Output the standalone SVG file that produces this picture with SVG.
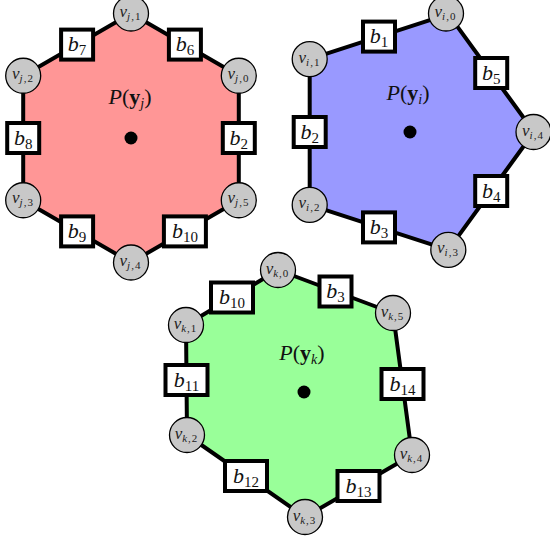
<svg xmlns="http://www.w3.org/2000/svg" width="550" height="542" viewBox="0 0 550 542">
<style>
.edge{stroke:#000;stroke-width:4;stroke-linejoin:round}
.box{fill:#fff;stroke:#000;stroke-width:4}
.v{fill:#c8c8c8;stroke:#000;stroke-width:1.3}
.bl{font-family:"Liberation Serif",serif;font-size:22px;font-style:italic;text-anchor:middle;fill:#111}
.bs{font-size:15px;font-style:normal}
.vl{font-family:"Liberation Serif",serif;font-size:17px;font-style:italic;text-anchor:middle;fill:#222}
.vi{font-size:11px;font-style:italic;letter-spacing:1px}
.vu{font-size:11px;font-style:normal;letter-spacing:1px}
.pl{font-family:"Liberation Serif",serif;font-size:22px;text-anchor:middle;fill:#111}
.pi{font-style:italic}
.pb{font-weight:bold}
.ps{font-size:14px;font-style:italic}
</style>
<g id="connectors">
<polygon class="edge" fill="#ff9696" points="238.8,75.75 131,13.5 23.2,75.75 23.2,200.25 131,262.5 238.8,200.25"/>
<polygon class="edge" fill="#9999ff" points="448.3,14.1 309.7,59.1 309.7,204.9 448.3,249.9 534,132"/>
<polygon class="edge" fill="#99ff99" points="278,270 393,313 412,455 305,517 187,435 186,325"/>
</g>
<g id="centers">
<circle cx="131" cy="138" r="6.5" fill="#000"/>
<circle cx="410" cy="132" r="6.5" fill="#000"/>
<circle cx="304" cy="392" r="6.5" fill="#000"/>
<text class="pl" x="130" y="104"><tspan class="pi">P</tspan>(<tspan class="pb">y</tspan><tspan class="ps" dy="4">j</tspan><tspan dy="-4">)</tspan></text>
<text class="pl" x="408" y="100"><tspan class="pi">P</tspan>(<tspan class="pb">y</tspan><tspan class="ps" dy="4">i</tspan><tspan dy="-4">)</tspan></text>
<text class="pl" x="302" y="360"><tspan class="pi">P</tspan>(<tspan class="pb">y</tspan><tspan class="ps" dy="4">k</tspan><tspan dy="-4">)</tspan></text>
</g>
<!-- red polytope nodes -->
<g id="vj0"><circle class="v" cx="238.8" cy="75.75" r="17.5"/><text class="vl" x="238.5" y="79">v<tspan class="vi" dy="3">j</tspan><tspan class="vu">,0</tspan></text></g>
<g id="vj1"><circle class="v" cx="131" cy="13.5" r="17.5"/><text class="vl" x="130.5" y="17">v<tspan class="vi" dy="3">j</tspan><tspan class="vu">,1</tspan></text></g>
<g id="vj2"><circle class="v" cx="23.2" cy="75.75" r="17.5"/><text class="vl" x="23" y="79">v<tspan class="vi" dy="3">j</tspan><tspan class="vu">,2</tspan></text></g>
<g id="vj3"><circle class="v" cx="23.2" cy="200.25" r="17.5"/><text class="vl" x="23" y="203">v<tspan class="vi" dy="3">j</tspan><tspan class="vu">,3</tspan></text></g>
<g id="vj4"><circle class="v" cx="131" cy="262.5" r="17.5"/><text class="vl" x="130.5" y="266">v<tspan class="vi" dy="3">j</tspan><tspan class="vu">,4</tspan></text></g>
<g id="vj5"><circle class="v" cx="238.8" cy="200.25" r="17.5"/><text class="vl" x="238.5" y="203">v<tspan class="vi" dy="3">j</tspan><tspan class="vu">,5</tspan></text></g>
<g id="bj6"><rect class="box" x="168.9" y="29.6" width="32" height="30"/><text class="bl" x="184.9" y="51">b<tspan class="bs" dy="4">6</tspan></text></g>
<g id="bj7"><rect class="box" x="61.1" y="29.6" width="32" height="30"/><text class="bl" x="77.1" y="51">b<tspan class="bs" dy="4">7</tspan></text></g>
<g id="bj8"><rect class="box" x="7.2" y="123" width="32" height="30"/><text class="bl" x="23.2" y="144.5">b<tspan class="bs" dy="4">8</tspan></text></g>
<g id="bj2"><rect class="box" x="222.8" y="123" width="32" height="30"/><text class="bl" x="238.8" y="144.5">b<tspan class="bs" dy="4">2</tspan></text></g>
<g id="bj9"><rect class="box" x="61.1" y="216.4" width="32" height="30"/><text class="bl" x="77.1" y="238">b<tspan class="bs" dy="4">9</tspan></text></g>
<g id="bj10"><rect class="box" x="163.9" y="216.4" width="42" height="30"/><text class="bl" x="184.9" y="238">b<tspan class="bs" dy="4">10</tspan></text></g>
<!-- blue polytope nodes -->
<g id="vi0"><circle class="v" cx="446" cy="13.5" r="17.5"/><text class="vl" x="445.5" y="17">v<tspan class="vi" dy="3">i</tspan><tspan class="vu">,0</tspan></text></g>
<g id="vi1"><circle class="v" cx="309.7" cy="59.1" r="17.5"/><text class="vl" x="309.5" y="62.5">v<tspan class="vi" dy="3">i</tspan><tspan class="vu">,1</tspan></text></g>
<g id="vi2"><circle class="v" cx="309.7" cy="204.9" r="17.5"/><text class="vl" x="309.5" y="208">v<tspan class="vi" dy="3">i</tspan><tspan class="vu">,2</tspan></text></g>
<g id="vi3"><circle class="v" cx="448.3" cy="249.9" r="17.5"/><text class="vl" x="448" y="253">v<tspan class="vi" dy="3">i</tspan><tspan class="vu">,3</tspan></text></g>
<g id="vi4"><circle class="v" cx="533.5" cy="132" r="17.5"/><text class="vl" x="533" y="135.5">v<tspan class="vi" dy="3">i</tspan><tspan class="vu">,4</tspan></text></g>
<g id="bi1"><rect class="box" x="363" y="21.6" width="32" height="30"/><text class="bl" x="379" y="43">b<tspan class="bs" dy="4">1</tspan></text></g>
<g id="bi5"><rect class="box" x="475.2" y="58" width="32" height="30"/><text class="bl" x="491.2" y="79.5">b<tspan class="bs" dy="4">5</tspan></text></g>
<g id="bi4"><rect class="box" x="475.2" y="176" width="32" height="30"/><text class="bl" x="491.2" y="197.5">b<tspan class="bs" dy="4">4</tspan></text></g>
<g id="bi3"><rect class="box" x="363" y="212.4" width="32" height="30"/><text class="bl" x="379" y="234">b<tspan class="bs" dy="4">3</tspan></text></g>
<g id="bi2"><rect class="box" x="293.7" y="117" width="32" height="30"/><text class="bl" x="309.7" y="138.5">b<tspan class="bs" dy="4">2</tspan></text></g>
<!-- green polytope nodes -->
<g id="vk0"><circle class="v" cx="278" cy="270" r="17.5"/><text class="vl" x="277.5" y="273.5">v<tspan class="vi" dy="3">k</tspan><tspan class="vu">,0</tspan></text></g>
<g id="vk5"><circle class="v" cx="393" cy="313" r="17.5"/><text class="vl" x="392.5" y="316.5">v<tspan class="vi" dy="3">k</tspan><tspan class="vu">,5</tspan></text></g>
<g id="vk4"><circle class="v" cx="412" cy="455" r="17.5"/><text class="vl" x="411.5" y="458.5">v<tspan class="vi" dy="3">k</tspan><tspan class="vu">,4</tspan></text></g>
<g id="vk3"><circle class="v" cx="305" cy="517" r="17.5"/><text class="vl" x="304.5" y="520.5">v<tspan class="vi" dy="3">k</tspan><tspan class="vu">,3</tspan></text></g>
<g id="vk2"><circle class="v" cx="187" cy="435" r="17.5"/><text class="vl" x="186.5" y="438.5">v<tspan class="vi" dy="3">k</tspan><tspan class="vu">,2</tspan></text></g>
<g id="vk1"><circle class="v" cx="186" cy="325" r="17.5"/><text class="vl" x="185.5" y="328.5">v<tspan class="vi" dy="3">k</tspan><tspan class="vu">,1</tspan></text></g>
<g id="bk10"><rect class="box" x="211" y="282.5" width="42" height="30"/><text class="bl" x="232" y="304">b<tspan class="bs" dy="4">10</tspan></text></g>
<g id="bk3"><rect class="box" x="319.5" y="276.5" width="32" height="30"/><text class="bl" x="335.5" y="298">b<tspan class="bs" dy="4">3</tspan></text></g>
<g id="bk14"><rect class="box" x="381.5" y="369" width="42" height="30"/><text class="bl" x="402.5" y="390.5">b<tspan class="bs" dy="4">14</tspan></text></g>
<g id="bk13"><rect class="box" x="337.5" y="471" width="42" height="30"/><text class="bl" x="358.5" y="492.5">b<tspan class="bs" dy="4">13</tspan></text></g>
<g id="bk12"><rect class="box" x="225" y="461" width="42" height="30"/><text class="bl" x="246" y="482.5">b<tspan class="bs" dy="4">12</tspan></text></g>
<g id="bk11"><rect class="box" x="165.5" y="365" width="42" height="30"/><text class="bl" x="186.5" y="386.5">b<tspan class="bs" dy="4">11</tspan></text></g>
</svg>
